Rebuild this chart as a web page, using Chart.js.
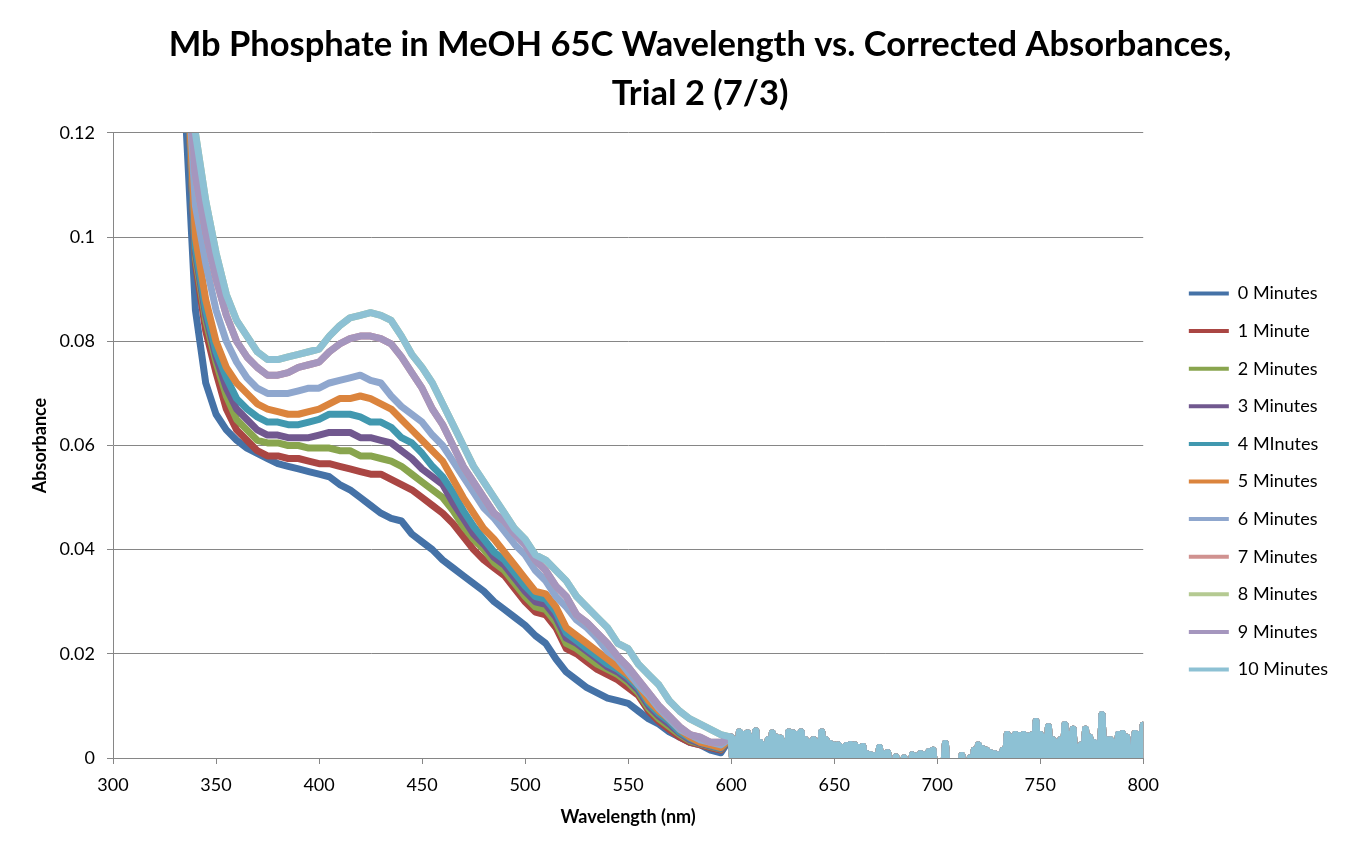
<!DOCTYPE html>
<html>
<head>
<meta charset="utf-8">
<title>Mb Phosphate in MeOH 65C</title>
<script src="https://cdn.jsdelivr.net/npm/chart.js@4"></script>
<style>
  body { margin: 0; background: #fff; }
  #wrap { width: 1352px; height: 855px; position: relative; }
</style>
</head>
<body>
<div id="wrap"><canvas id="myChart"></canvas></div>
<script>
// wavelengths (nm): 5 nm steps on the slope, 1 nm steps in the noisy tail
let wlMain = [];
for (let w = 335; w <= 595; w += 5) wlMain.push(w);
let wlTail = [];
for (let w = 600; w <= 800; w += 1) wlTail.push(w);

// series names
let seriesNames = ["0 Minutes", "1 Minute", "2 Minutes", "3 Minutes", "4 MInutes", "5 Minutes",
    "6 Minutes", "7 Minutes", "8 Minutes", "9 Minutes", "10 Minutes"];

// absorbance 335-595 nm
let m0 = [0.125, 0.086, 0.072, 0.066, 0.063, 0.061, 0.0595, 0.0585, 0.0575, 0.0565,
    0.056, 0.0555, 0.055, 0.0545, 0.054, 0.0525, 0.0515, 0.050, 0.0485, 0.047,
    0.046, 0.0455, 0.043, 0.0415, 0.040, 0.038, 0.0365, 0.035, 0.0335, 0.032,
    0.030, 0.0285, 0.027, 0.0255, 0.0235, 0.022, 0.019, 0.0165, 0.015, 0.0135,
    0.0125, 0.0115, 0.011, 0.0105, 0.009, 0.0075, 0.0065, 0.005, 0.004, 0.003,
    0.0025, 0.0015, 0.001];
let m1 = [0.14, 0.095, 0.082, 0.074, 0.067, 0.063, 0.061, 0.059, 0.058, 0.058,
    0.0575, 0.0575, 0.057, 0.0565, 0.0565, 0.056, 0.0555, 0.055, 0.0545, 0.0545,
    0.0535, 0.0525, 0.0515, 0.050, 0.0485, 0.047, 0.045, 0.0425, 0.040, 0.038,
    0.0365, 0.035, 0.0325, 0.030, 0.028, 0.0275, 0.025, 0.021, 0.020, 0.0185,
    0.017, 0.016, 0.015, 0.0135, 0.012, 0.009, 0.007, 0.0055, 0.004, 0.003,
    0.0025, 0.002, 0.0015];
let m2 = [0.14, 0.096, 0.084, 0.076, 0.0695, 0.065, 0.063, 0.061, 0.0605, 0.0605,
    0.060, 0.060, 0.0595, 0.0595, 0.0595, 0.059, 0.059, 0.058, 0.058, 0.0575,
    0.057, 0.056, 0.0545, 0.053, 0.0515, 0.050, 0.0475, 0.0445, 0.042, 0.040,
    0.0375, 0.036, 0.0335, 0.031, 0.029, 0.0285, 0.026, 0.022, 0.021, 0.0195,
    0.018, 0.017, 0.016, 0.0145, 0.0125, 0.0095, 0.0075, 0.006, 0.0045, 0.0033,
    0.0027, 0.0022, 0.0017];
let m3 = [0.14, 0.097, 0.085, 0.077, 0.071, 0.067, 0.065, 0.063, 0.062, 0.062,
    0.0615, 0.0615, 0.0615, 0.062, 0.0625, 0.0625, 0.0625, 0.0615, 0.0615, 0.061,
    0.0605, 0.059, 0.0575, 0.0555, 0.054, 0.0525, 0.049, 0.046, 0.043, 0.041,
    0.0385, 0.037, 0.0345, 0.032, 0.030, 0.0295, 0.027, 0.023, 0.022, 0.0205,
    0.019, 0.0175, 0.0165, 0.015, 0.013, 0.010, 0.008, 0.0065, 0.0048, 0.0035,
    0.0028, 0.0023, 0.0018];
let m4 = [0.14, 0.098, 0.086, 0.078, 0.073, 0.069, 0.067, 0.0655, 0.0645, 0.0645,
    0.064, 0.064, 0.0645, 0.065, 0.066, 0.066, 0.066, 0.0655, 0.0645, 0.0645,
    0.0635, 0.0615, 0.0605, 0.0585, 0.056, 0.054, 0.051, 0.0475, 0.0445, 0.042,
    0.0395, 0.038, 0.0355, 0.033, 0.031, 0.0305, 0.028, 0.024, 0.0225, 0.021,
    0.0195, 0.018, 0.017, 0.0155, 0.0135, 0.0105, 0.0085, 0.007, 0.005, 0.0038,
    0.003, 0.0024, 0.0019];
let m5 = [0.14, 0.100, 0.088, 0.080, 0.075, 0.072, 0.070, 0.068, 0.067, 0.0665,
    0.066, 0.066, 0.0665, 0.067, 0.068, 0.069, 0.069, 0.0695, 0.069, 0.068,
    0.067, 0.065, 0.063, 0.061, 0.059, 0.057, 0.0535, 0.050, 0.047, 0.044,
    0.042, 0.0395, 0.037, 0.0345, 0.032, 0.0315, 0.029, 0.025, 0.0235, 0.022,
    0.0205, 0.019, 0.0175, 0.016, 0.014, 0.011, 0.009, 0.0075, 0.0055, 0.004,
    0.003, 0.0025, 0.002];
let m6 = [0.14, 0.106, 0.095, 0.086, 0.080, 0.076, 0.073, 0.071, 0.070, 0.070,
    0.070, 0.0705, 0.071, 0.071, 0.072, 0.0725, 0.073, 0.0735, 0.0725, 0.072,
    0.0695, 0.0675, 0.066, 0.0645, 0.062, 0.060, 0.057, 0.054, 0.051, 0.048,
    0.046, 0.0435, 0.041, 0.039, 0.036, 0.034, 0.031, 0.029, 0.0265, 0.025,
    0.023, 0.0205, 0.019, 0.0165, 0.014, 0.012, 0.0095, 0.0075, 0.0055, 0.0045,
    0.0035, 0.003, 0.0025];
let m9 = [0.14, 0.112, 0.101, 0.092, 0.085, 0.080, 0.077, 0.075, 0.0735, 0.0735,
    0.074, 0.075, 0.0755, 0.076, 0.078, 0.0795, 0.0805, 0.081, 0.081, 0.0805,
    0.0795, 0.077, 0.074, 0.071, 0.067, 0.064, 0.060, 0.056, 0.053, 0.050,
    0.047, 0.0455, 0.043, 0.041, 0.038, 0.036, 0.033, 0.031, 0.0275, 0.026,
    0.024, 0.022, 0.0195, 0.0175, 0.015, 0.0125, 0.010, 0.008, 0.006, 0.0045,
    0.004, 0.003, 0.003];
let m10 = [0.15, 0.12, 0.107, 0.097, 0.089, 0.084, 0.081, 0.078, 0.0765, 0.0765,
    0.077, 0.0775, 0.078, 0.0785, 0.081, 0.083, 0.0845, 0.085, 0.0855, 0.085,
    0.084, 0.081, 0.0775, 0.075, 0.072, 0.068, 0.064, 0.060, 0.056, 0.053,
    0.050, 0.047, 0.044, 0.042, 0.039, 0.038, 0.036, 0.034, 0.031, 0.029,
    0.027, 0.025, 0.022, 0.021, 0.018, 0.016, 0.014, 0.011, 0.009, 0.0075,
    0.0065, 0.0055, 0.0045];
// 7 and 8 minutes are not visible, they sit under the 9 and 10 minute lines
let m7 = m9;
let m8 = m10;

// 600-800 nm: all runs overlap in the noise around zero (1 nm steps)
let tail = [
    0.004, -0.002, 0.0035, -0.002, 0.005, -0.001, 0.0045, -0.002, 0.0048, -0.002,   // 600
    0.004, -0.001, 0.0052, -0.002, 0.003, -0.002, 0.0025, -0.002, 0.0035, -0.001,   // 610
    0.0048, -0.002, 0.004, -0.002, 0.0038, -0.002, 0.003, -0.001, 0.005, -0.002,    // 620
    0.0048, -0.002, 0.0045, -0.002, 0.005, -0.001, 0.0035, -0.002, 0.003, -0.002,   // 630
    0.0035, -0.002, 0.003, -0.001, 0.005, -0.002, 0.0035, -0.002, 0.0028, -0.002,   // 640
    0.0025, -0.001, 0.0025, -0.002, 0.002, -0.002, 0.0024, -0.002, 0.0026, -0.001,  // 650
    0.0025, -0.002, 0.002, -0.002, 0.0022, -0.002, 0.0008, -0.003, 0.0006, -0.003,  // 660
    0.0005, -0.002, 0.002, -0.003, 0.0008, -0.003, 0.001, -0.003, -0.001, -0.004,   // 670
    0.0002, -0.004, -0.001, -0.004, 0.0, -0.004, -0.001, -0.003, 0.0006, -0.003,    // 680
    0.0004, -0.003, 0.0008, -0.003, 0.0006, -0.003, 0.0012, -0.002, 0.0015, -0.003, // 690
    -0.001, -0.004, -0.001, -0.003, 0.0028, -0.003, -0.001, -0.004, -0.001, -0.004, // 700
    -0.001, -0.004, 0.0005, -0.004, -0.001, -0.003, 0.0, -0.002, 0.0015, -0.002,    // 710
    0.0025, -0.002, 0.0018, -0.002, 0.0015, -0.002, 0.001, -0.002, 0.0008, -0.002,  // 720
    0.0006, -0.002, 0.0015, -0.001, 0.0045, -0.001, 0.004, -0.001, 0.0045, -0.002,  // 730
    0.0043, -0.001, 0.0045, -0.001, 0.0042, -0.002, 0.0044, -0.001, 0.007, -0.001,  // 740
    0.0045, -0.002, 0.004, -0.001, 0.006, -0.001, 0.0035, -0.002, 0.003, -0.002,    // 750
    0.0035, -0.001, 0.0064, -0.001, 0.0045, -0.001, 0.0055, -0.002, 0.002, -0.002,  // 760
    0.0025, -0.001, 0.0055, -0.001, 0.004, -0.002, 0.003, -0.002, 0.0028, -0.001,   // 770
    0.0083, -0.001, 0.0035, -0.002, 0.0035, -0.002, 0.003, -0.001, 0.0045, -0.001,  // 780
    0.0047, -0.002, 0.004, -0.002, 0.0, -0.002, 0.0047, -0.001, 0.0045, -0.001,     // 790
    0.0063];                                                                         // 800

let seriesValues = [m0, m1, m2, m3, m4, m5, m6, m7, m8, m9, m10];
let seriesColors = ["#4572A7", "#AA4643", "#89A54E", "#71588F", "#4198AF", "#DB843D",
    "#8FA7CE", "#D09290", "#B5CA92", "#A596BE", "#8DC1D4"];

let yTicks = [0, 0.02, 0.04, 0.06, 0.08, 0.1, 0.12];

let wl = wlMain.concat(wlTail);

function makeDataset(i) {
    let vals = seriesValues[i].concat(tail);
    return {
        label: seriesNames[i],
        data: wl.map(function(x, k) { return {x: x, y: vals[k]}; }),
        borderColor: seriesColors[i],
        backgroundColor: seriesColors[i],
        borderWidth: 7,
        borderJoinStyle: 'round',
        borderCapStyle: 'round',
        pointRadius: 0,
        tension: 0,
        clip: 0,
        order: seriesValues.length - i // last series on top, like Excel
    };
}

let datasets = [];
for (let i = 0; i < seriesValues.length; i++) datasets.push(makeDataset(i));

let FONT = "Lato, 'Open Sans', sans-serif";

// move the legend and title to where Excel put them
let legendShift = {
    id: 'legendShift',
    afterLayout: function(chart) {
        let lg = chart.legend;
        lg.left += 26;
        lg.right += 26;
        lg.top += 54;
        lg.bottom += 54;
        let tb = chart.titleBlock;
        tb.left += 44;
        tb.right += 44;
    }
};

let ctx = document.getElementById('myChart').getContext('2d');
let myChart = new Chart(ctx, {
    type: 'line',
    data: { datasets: datasets },
    plugins: [legendShift],
    options: {
        responsive: true,
        maintainAspectRatio: false,
        animation: false,
        layout: { padding: { left: 0, right: 40, top: 0, bottom: 0 } },
        plugins: {
            title: {
                display: true,
                text: ["Mb Phosphate in MeOH 65C Wavelength vs. Corrected Absorbances,", "Trial 2 (7/3)"],
                color: '#000',
                font: { family: FONT, size: 34.5, weight: 'bold', lineHeight: 1.42 },
                padding: { top: 20, bottom: 15 }
            },
            legend: {
                position: 'right',
                labels: {
                    color: '#000',
                    font: { family: FONT, size: 18 },
                    boxWidth: 40,
                    boxHeight: 4,
                    padding: 19.6,
                    generateLabels: function(chart) {
                        return chart.data.datasets.map(function(ds, i) {
                            return {
                                text: ds.label,
                                fillStyle: ds.borderColor,
                                strokeStyle: ds.borderColor,
                                lineWidth: 0,
                                hidden: false,
                                datasetIndex: i
                            };
                        });
                    }
                }
            },
            tooltip: { enabled: false }
        },
        scales: {
            x: {
                type: 'linear',
                min: 300,
                max: 800,
                afterFit: function(s) { s.height = 97; },
                ticks: { stepSize: 50, color: '#000', padding: 10, font: { family: FONT, size: 18 } },
                grid: { drawOnChartArea: false, drawTicks: true, tickLength: 6, color: '#868686' },
                border: { color: '#868686' },
                title: {
                    display: true,
                    text: 'Wavelength (nm)',
                    color: '#000',
                    font: { family: FONT, size: 18, weight: 'bold' },
                    padding: { top: 0, bottom: 27 }
                }
            },
            y: {
                min: 0,
                max: 0.12,
                afterFit: function(s) { s.width = 113; },
                afterBuildTicks: function(s) { s.ticks = yTicks.map(function(v) { return {value: v}; }); },
                ticks: {
                    color: '#000',
                    padding: 12,
                    font: { family: FONT, size: 18 },
                    callback: function(v) { return String(+Number(v).toFixed(2)); }
                },
                grid: { color: '#868686', tickLength: 6 },
                border: { color: '#868686' },
                title: {
                    display: true,
                    text: 'Absorbance',
                    color: '#000',
                    font: { family: FONT, size: 18, weight: 'bold' },
                    padding: { top: 29, bottom: 0 }
                }
            }
        }
    }
});
</script>
</body>
</html>
